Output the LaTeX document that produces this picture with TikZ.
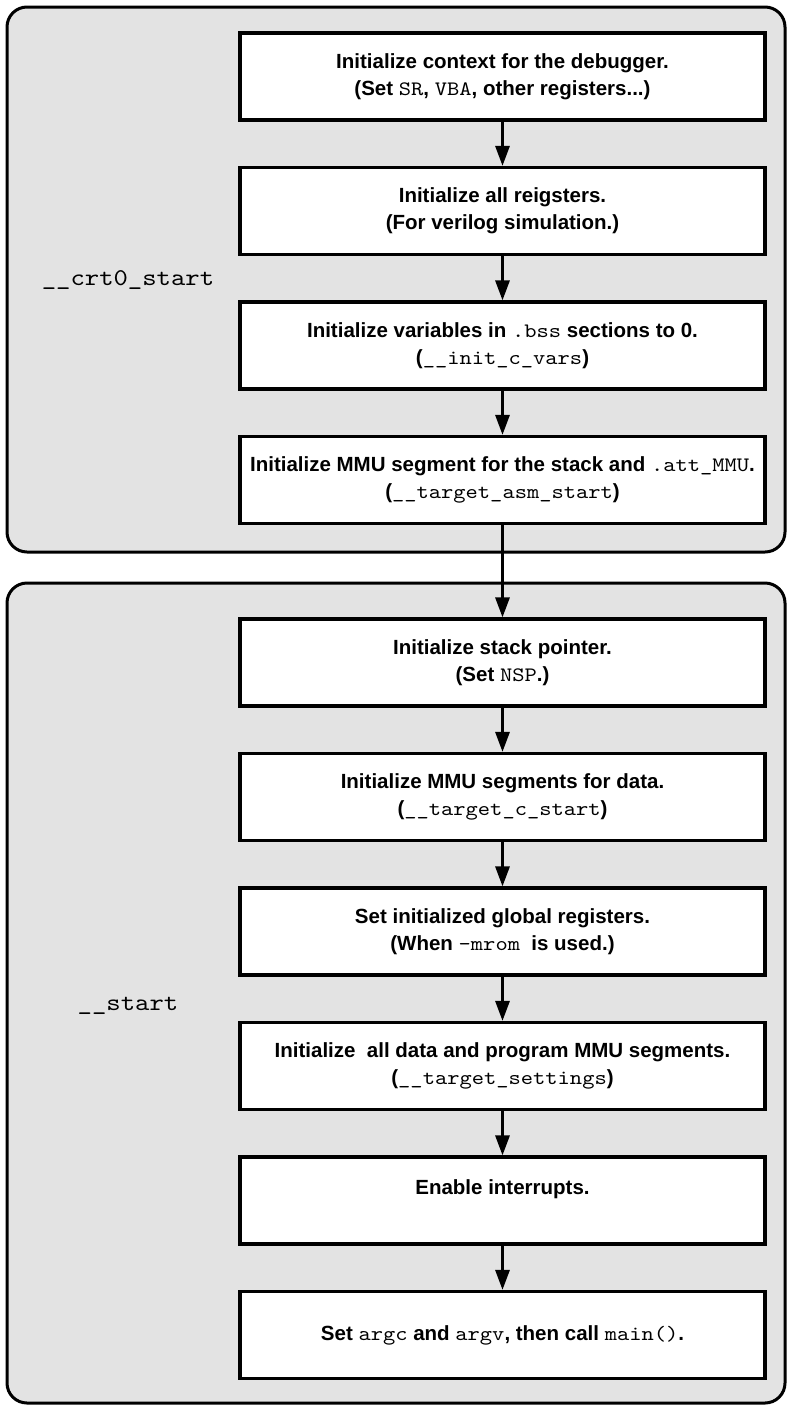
\documentclass[tikz,border=0pt]{standalone}
\usepackage{fontspec}
\setmainfont{Liberation Sans}
\setmonofont{lmmono10-regular.otf}[FakeStretch=1.14]
\usetikzlibrary{arrows.meta}
\definecolor{panel}{RGB}{227,227,227}
\newcommand\cc[1]{{\ttfamily\mdseries #1}}
\begin{document}
\begin{tikzpicture}[x=1pt,y=-1pt,
  panelbox/.style={draw=black,line width=3pt,fill=panel,rounded corners=20pt},
  stepbox/.style={draw=black,line width=3.2pt,fill=white,minimum width=525pt,minimum height=87pt,inner sep=0pt,align=center,font=\fontsize{20.5}{27}\selectfont\bfseries},
  flow/.style={line width=3pt,-{Triangle[length=20pt,width=14pt]}},
  grouplabel/.style={font=\fontsize{24}{28}\selectfont\ttfamily,anchor=base,inner sep=0pt}]
\useasboundingbox (0,0) rectangle (789,1409);
\draw[panelbox] (7,7) rectangle (785,552);
\draw[panelbox] (7,583) rectangle (785,1403);
\node[grouplabel] (crt) at (128,285) {\_\_crt0\_start};
\node[grouplabel] (st) at (128,1010) {\_\_start};
\node[stepbox] (b1) at (502.5,76.5) {Initialize context for the debugger.\\(Set \cc{SR}, \cc{VBA}, other registers...)};
\node[stepbox] (b2) at (502.5,211) {Initialize all reigsters.\\(For verilog simulation.)};
\node[stepbox] (b3) at (502.5,345.5) {Initialize variables in \cc{.bss} sections to 0.\\(\cc{\_\_init\_c\_vars})};
\node[stepbox] (b4) at (502.5,480) {Initialize MMU segment for the stack and\ \cc{.att\_MMU}.\\(\cc{\_\_target\_asm\_start})};
\node[stepbox] (b5) at (502.5,662.5) {Initialize stack pointer.\\(Set \cc{NSP}.)};
\node[stepbox] (b6) at (502.5,797) {Initialize MMU segments for data.\\(\cc{\_\_target\_c\_start})};
\node[stepbox] (b7) at (502.5,931.5) {Set initialized global registers.\\(When \cc{-mrom}\ \ is used.)};
\node[stepbox] (b8) at (502.5,1066) {Initialize\ \ all data and program MMU segments.\\(\cc{\_\_target\_settings})};
\node[stepbox] (b9) at (502.5,1200.5) {Enable interrupts.\\\mbox{}};
\node[stepbox] (b10) at (502.5,1335) {Set \cc{argc} and \cc{argv}, then call \cc{main()}.};
\draw[flow] (b1.south) -- (b2.north);
\draw[flow] (b2.south) -- (b3.north);
\draw[flow] (b3.south) -- (b4.north);
\draw[flow] (b4.south) -- (b5.north);
\draw[flow] (b5.south) -- (b6.north);
\draw[flow] (b6.south) -- (b7.north);
\draw[flow] (b7.south) -- (b8.north);
\draw[flow] (b8.south) -- (b9.north);
\draw[flow] (b9.south) -- (b10.north);
\end{tikzpicture}
\end{document}
